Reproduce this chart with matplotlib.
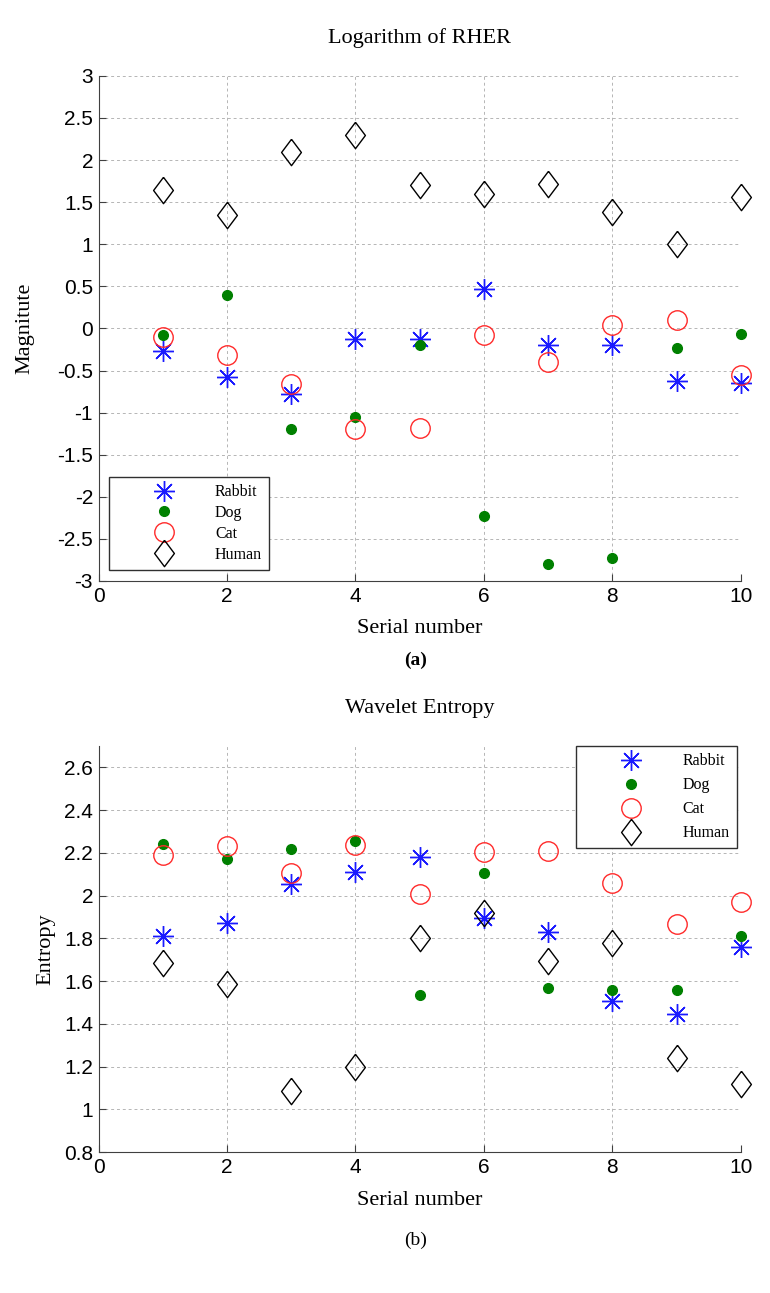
import matplotlib
matplotlib.use("Agg")
import matplotlib.pyplot as plt

# -----------------------------------------
# data
# -----------------------------------------
serial = [1, 2, 3, 4, 5, 6, 7, 8, 9, 10]

# (a) logarithm of RHER
rher_rabbit = [-0.27, -0.58, -0.78, -0.12, -0.13, 0.47, -0.20, -0.20, -0.63, -0.65]
rher_dog = [-0.08, 0.40, -1.20, -1.05, -0.20, -2.23, -2.80, -2.73, -0.23, -0.07]
rher_cat = [-0.10, -0.32, -0.66, -1.20, -1.18, -0.08, -0.40, 0.04, 0.10, -0.55]
rher_human = [1.65, 1.35, 2.10, 2.30, 1.70, 1.60, 1.72, 1.38, 1.00, 1.56]

# (b) wavelet entropy
we_rabbit = [1.81, 1.87, 2.055, 2.11, 2.18, 1.895, 1.83, 1.505, 1.445, 1.76]
we_dog = [2.24, 2.17, 2.22, 2.255, 1.535, 2.105, 1.57, 1.56, 1.56, 1.81]
we_cat = [2.19, 2.23, 2.105, 2.235, 2.01, 2.205, 2.21, 2.06, 1.865, 1.97]
we_human = [1.685, 1.585, 1.085, 1.20, 1.80, 1.92, 1.695, 1.78, 1.24, 1.12]

labels = ["Rabbit", "Dog", "Cat", "Human"]

serif = "Liberation Serif"
sans = "Liberation Sans"

# matlab-like markers
star = (8, 2, 0)
diamond = [(0, 1), (0.75, 0), (0, -1), (-0.75, 0), (0, 1)]

styles = [
    dict(marker=star, ms=15, color="#1a1aff", mew=1.0),
    dict(marker="o", ms=7, color="#008000", mec="#008000"),
    dict(marker="o", ms=14, mfc="none", mec="#ff2a2a", mew=1.0),
    dict(marker=diamond, ms=19, mfc="none", mec="black", mew=1.0),
]


def draw(ax, series, title, ylabel, ylim, yticks, ylabelpad, leg_kw):
    handles = []
    for values, st, lab in zip(series, styles, labels):
        h, = ax.plot(serial, values, ls="none", clip_on=False, zorder=3,
                     label=lab, **st)
        handles.append(h)

    ax.set_xlim(0, 10)
    ax.set_ylim(*ylim)
    ax.set_xticks([0, 2, 4, 6, 8, 10])
    ax.set_yticks(yticks)
    ax.set_yticklabels([("%g" % t) for t in yticks])
    ax.grid(True, ls=(0, (3, 3)), color="#b5b5b5", lw=0.7)
    ax.spines["top"].set_visible(False)
    ax.spines["right"].set_visible(False)
    for s in ("left", "bottom"):
        ax.spines[s].set_color("#404040")
    ax.tick_params(direction="in", length=5, labelsize=15, pad=4,
                   color="#404040")
    for t in ax.get_xticklabels() + ax.get_yticklabels():
        t.set_fontfamily(sans)
    ax.set_title(title, fontsize=16, family=serif, pad=24)
    ax.set_xlabel("Serial number", fontsize=16, family=serif, labelpad=10)
    ax.set_ylabel(ylabel, fontsize=16, family=serif, labelpad=ylabelpad)

    leg = ax.legend(handles, labels, prop={"family": serif, "size": 11.5},
                    fancybox=False, edgecolor="#303030", framealpha=1,
                    handletextpad=0.2, borderpad=0.45,
                    handlelength=6.0, borderaxespad=0.0, **leg_kw)
    leg.get_frame().set_linewidth(1.0)


fig = plt.figure(figsize=(7.7, 12.93), dpi=100)
ax1 = fig.add_axes([0.128, 0.5507, 0.834, 0.3906])
ax2 = fig.add_axes([0.128, 0.109, 0.834, 0.314])

draw(ax1, (rher_rabbit, rher_dog, rher_cat, rher_human),
     "Logarithm of RHER", "Magnitute", (-3, 3),
     [-3, -2.5, -2, -1.5, -1, -0.5, 0, 0.5, 1, 1.5, 2, 2.5, 3], 16,
     dict(loc="lower left", bbox_to_anchor=(0.016, 0.022), labelspacing=0.3))
draw(ax2, (we_rabbit, we_dog, we_cat, we_human),
     "Wavelet Entropy", "Entropy", (0.8, 2.7),
     [0.8, 1, 1.2, 1.4, 1.6, 1.8, 2, 2.2, 2.4, 2.6], 6,
     dict(loc="upper right", bbox_to_anchor=(0.994, 1.0), labelspacing=0.5))

fig.text(0.54, 1 - 660 / 1293, "(a)", ha="center", va="center",
         fontsize=14, family=serif, weight="bold")
fig.text(0.54, 1 - 1240 / 1293, "(b)", ha="center", va="center",
         fontsize=14, family=serif)

fig.savefig("out.png", dpi=100)
